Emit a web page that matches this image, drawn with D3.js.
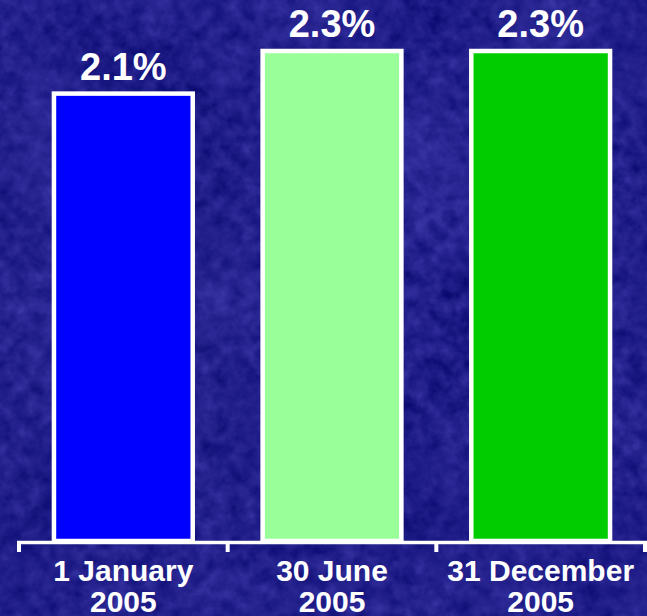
<!DOCTYPE html>
<html>
<head>
<meta charset="utf-8">
<script src="https://cdn.jsdelivr.net/npm/d3@7"></script>
<style>
  html, body { margin: 0; padding: 0; background: #21208c; }
  svg { display: block; }
  text { font-family: "Liberation Sans", Arial, sans-serif; font-weight: bold; fill: #ffffff; }
</style>
</head>
<body>
<script>
// Ratio at three reporting dates
const categories = ["1 January|2005", "30 June|2005", "31 December|2005"];
const values = [2.1, 2.3, 2.3];
const valueLabels = ["2.1%", "2.3%", "2.3%"];
const barColors = ["#0000ff", "#99ff99", "#00cc00"];

const W = 647, H = 616;
const svg = d3.select("body").append("svg").attr("width", W).attr("height", H);

// Textured navy backdrop
const defs = svg.append("defs");
const f = defs.append("filter").attr("id", "grain")
  .attr("x", 0).attr("y", 0).attr("width", W).attr("height", H)
  .attr("filterUnits", "userSpaceOnUse")
  .attr("color-interpolation-filters", "sRGB");
f.append("feTurbulence").attr("type", "fractalNoise")
  .attr("baseFrequency", "0.07").attr("numOctaves", 3).attr("seed", 7).attr("result", "n1");
f.append("feTurbulence").attr("type", "fractalNoise")
  .attr("baseFrequency", "0.008").attr("numOctaves", 2).attr("seed", 3).attr("result", "n2");
f.append("feComposite").attr("in", "n1").attr("in2", "n2")
  .attr("operator", "arithmetic").attr("k1", 0).attr("k2", 0.6).attr("k3", 0.4).attr("k4", 0)
  .attr("result", "n");
f.append("feColorMatrix").attr("in", "n").attr("type", "matrix")
  .attr("values", "0.32 0 0 0 -0.03  0.30 0 0 0 -0.03  0.36 0 0 0 0.36  0 0 0 0 1");
svg.append("rect").attr("width", W).attr("height", H).attr("fill", "#21208c")
  .attr("filter", "url(#grain)");

const x = d3.scaleBand().domain(categories).range([19, 645])
  .paddingInner(0.335).paddingOuter(0.1675);
const y = d3.scaleLinear().domain([0, 2.3]).range([541, 51]);

// Bars
svg.append("g").selectAll("rect").data(values).join("rect")
  .attr("x", (d, i) => x(categories[i]))
  .attr("width", x.bandwidth())
  .attr("y", d => y(d))
  .attr("height", d => y(0) - y(d))
  .attr("fill", (d, i) => barColors[i])
  .attr("stroke", "#ffffff")
  .attr("stroke-width", 4.5);

// Value labels
svg.append("g").selectAll("text").data(values).join("text")
  .attr("x", (d, i) => x(categories[i]) + x.bandwidth() / 2)
  .attr("y", d => y(d) - 14)
  .attr("text-anchor", "middle")
  .style("font-size", "38px")
  .text((d, i) => valueLabels[i]);

// Category axis
const axisY = 542.5;
const axis = svg.append("g").attr("transform", `translate(0,${axisY})`)
  .call(d3.axisBottom(x).tickSize(0).tickPadding(0));
axis.select(".domain").remove();
axis.append("line").attr("x1", 17).attr("x2", 647).attr("y1", 0).attr("y2", 0)
  .attr("stroke", "#ffffff").attr("stroke-width", 3.5);
const bounds = d3.range(categories.length + 1).map(i => x.range()[0] + i * x.step());
axis.selectAll(".bound").data(bounds).join("line").attr("class", "bound")
  .attr("x1", d => d).attr("x2", d => d).attr("y1", -1.5).attr("y2", 9.5)
  .attr("stroke", "#ffffff").attr("stroke-width", 4);

axis.selectAll(".tick text").each(function (d) {
  const t = d3.select(this).text("").attr("y", 0).attr("dy", null)
    .attr("fill", "#ffffff").style("font-size", "30px")
    .attr("font-family", null);
  d.split("|").forEach((line, i) => {
    t.append("tspan").attr("x", 0).attr("y", i === 0 ? 38.5 : 69).text(line);
  });
});
</script>
</body>
</html>
